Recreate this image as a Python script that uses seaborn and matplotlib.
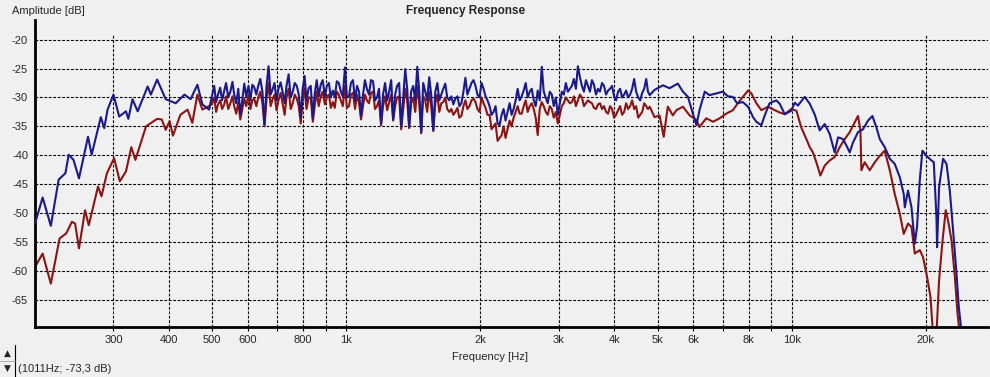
import seaborn as sns
import matplotlib.pyplot as plt
import matplotlib.ticker as mticker
import pandas as pd
from matplotlib.lines import Line2D

# --- data (Hz, dB) ---
blue_low_f = [200, 208, 217, 226, 234, 238, 244, 251, 263, 268, 281, 286, 291, 300, 309, 320, 324,
              331, 340, 358, 364, 376, 393, 414, 433, 447, 463, 475, 492]
blue_low_db = [-51.8, -47.3, -52.2, -44.2, -43.1, -39.9, -40.8, -44.0, -36.8, -39.9, -33.4, -35.3,
               -32.1, -29.5, -33.3, -32.4, -33.7, -30.3, -32.4, -28.1, -29.5, -26.9, -30.3, -31.0,
               -29.5, -30.3, -27.8, -31.2, -32.1]
red_low_f = [200, 208, 217, 227, 235, 242, 246, 251, 259, 264, 277, 282, 290, 301, 310, 320, 329,
             336, 355, 376, 385, 393, 401, 408, 424, 440, 451, 463, 475, 492]
red_low_db = [-59.3, -57.0, -62.2, -54.4, -53.5, -51.5, -51.8, -56.1, -49.5, -52.1, -45.4, -47.1,
              -43.1, -40.5, -44.5, -42.8, -38.6, -40.8, -35.0, -33.7, -33.8, -35.6, -34.1, -36.6,
              -33.0, -32.1, -34.4, -29.5, -32.1, -31.5]

mid_f = [500, 510, 521, 532, 543, 555, 566, 578, 590, 603, 615, 628, 641, 655, 669, 683, 697, 712,
         727, 742, 758, 774, 790, 806, 823, 841, 858, 876, 895, 914, 933, 952, 972, 993, 1014, 1035,
         1057, 1079, 1101, 1124, 1148, 1172, 1197, 1222, 1248, 1274, 1300, 1328, 1356, 1384, 1413,
         1443, 1473, 1504, 1535, 1568, 1601, 1634, 1668, 1703, 1739, 1776, 1813, 1851, 1890, 1930,
         1970, 2012, 2054, 2097, 2141, 2186, 2232, 2278, 2326, 2375, 2425, 2476, 2528, 2581, 2635,
         2690, 2747, 2804, 2863, 2923, 2985, 3047, 3111, 3177, 3243, 3311, 3381, 3452, 3524, 3598,
         3674, 3751, 3830, 3910, 3992, 4076, 4161, 4249, 4338, 4429, 4522, 4617, 4714, 4800]
blue_mid_db = [-29.5, -30.8, -28.3, -28.8, -30.0, -27.3, -31.0, -33.0, -27.6, -28.0, -27.8, -29.5,
               -26.8, -34.7, -24.6, -28.6, -30.5, -27.4, -31.0, -26.0, -29.0, -28.0, -33.4, -26.3,
               -28.4, -33.6, -27.0, -27.8, -29.8, -27.5, -28.8, -27.2, -29.0, -24.8, -29.8, -27.0,
               -28.0, -33.2, -27.0, -29.5, -27.2, -30.0, -34.5, -27.5, -29.0, -33.8, -28.0, -35.0,
               -25.1, -35.1, -28.0, -24.7, -36.0, -29.0, -26.5, -35.7, -27.5, -29.5, -27.6, -30.5,
               -31.2, -29.8, -31.0, -26.6, -28.5, -27.0, -29.5, -27.5, -29.8, -31.5, -32.5, -34.5,
               -33.0, -34.0, -31.0, -32.0, -28.5, -29.8, -27.5, -29.0, -30.5, -28.8, -24.7, -30.0,
               -29.0, -31.5, -33.0, -29.0, -27.5, -28.5, -26.8, -24.6, -28.0, -27.0, -29.0, -27.8,
               -28.5, -27.5, -29.5, -28.5, -29.8, -29.0, -30.0, -28.8, -29.5, -26.8, -30.0, -29.2,
               -26.8, -29.6]
red_mid_db = [-31.0, -32.5, -30.5, -31.2, -32.0, -29.8, -32.8, -33.8, -30.2, -29.5, -30.5, -31.5,
              -29.0, -35.0, -27.5, -30.3, -32.2, -29.2, -33.0, -28.5, -31.0, -30.2, -34.5, -28.4,
              -30.0, -34.2, -29.0, -29.8, -31.2, -29.5, -30.8, -29.0, -30.5, -28.0, -31.5, -29.2,
              -29.5, -33.8, -29.5, -31.0, -29.0, -31.5, -34.8, -29.8, -30.8, -34.0, -30.0, -35.5,
              -28.5, -35.3, -30.0, -28.0, -36.2, -30.5, -29.0, -35.8, -29.5, -31.0, -30.0, -32.5,
              -33.0, -31.8, -33.2, -30.5, -31.5, -30.2, -32.0, -30.0, -31.8, -33.0, -35.0, -37.5,
              -36.5, -37.0, -34.0, -33.5, -31.5, -32.8, -30.5, -31.5, -32.0, -36.5, -30.8, -32.5,
              -31.5, -33.5, -34.5, -31.5, -30.0, -31.0, -29.8, -30.5, -30.0, -31.0, -30.8, -31.8,
              -31.2, -32.0, -32.5, -31.5, -33.5, -32.2, -33.0, -31.0, -31.5, -32.0, -33.5, -32.5,
              -31.5, -31.6]

# in-between readings of the dense mid band
mid2_f = [505, 515, 526, 537, 549, 560, 572, 584, 596, 609, 621, 634, 648, 662, 676, 690, 704, 719,
          734, 750, 766, 782, 798, 814, 832, 849, 867, 885, 904, 923, 942, 962, 982, 1003, 1024,
          1046, 1068, 1090, 1112, 1136, 1160, 1184, 1209, 1235, 1261, 1287, 1314, 1342, 1370, 1398,
          1428, 1458, 1488, 1519, 1551, 1584, 1617, 1651, 1685, 1721, 1757, 1794, 1832, 1870, 1910,
          1950, 1991, 2033, 2075, 2119, 2163, 2209, 2255, 2302, 2350, 2400, 2450, 2502, 2554, 2608,
          2662, 2718, 2775, 2833, 2893, 2954, 3016, 3079, 3144, 3210, 3277, 3346, 3416, 3488, 3561,
          3636, 3712, 3790, 3870, 3951, 4034, 4118, 4205, 4293, 4383, 4475, 4569, 4665, 4757]
blue_mid2_db = [-28.0, -29.5, -30.5, -27.5, -29.0, -29.5, -28.5, -30.5, -29.8, -30.5, -28.2, -28.0,
                -29.0, -28.0, -29.5, -27.5, -28.5, -29.0, -28.0, -30.0, -27.5, -29.5, -28.5, -30.5,
                -28.0, -29.5, -29.8, -27.0, -28.0, -30.0, -30.0, -27.5, -29.8, -30.0, -27.5, -30.5,
                -29.0, -29.5, -28.5, -27.0, -30.5, -28.5, -29.5, -30.5, -27.0, -29.5, -27.5, -30.0,
                -28.5, -29.0, -30.5, -29.0, -27.5, -30.5, -29.5, -29.0, -30.5, -28.5, -30.0, -29.8,
                -30.2, -31.5, -29.0, -29.5, -27.5, -28.0, -30.0, -28.5, -30.5, -33.0, -31.5, -34.8,
                -32.0, -32.5, -33.0, -30.5, -30.5, -28.8, -30.0, -28.5, -31.5, -30.5, -29.0, -31.0,
                -29.5, -30.0, -31.0, -29.5, -29.0, -28.0, -28.5, -26.5, -29.0, -28.0, -27.0, -29.5,
                -29.0, -28.0, -28.8, -28.0, -30.5, -28.5, -29.5, -30.0, -28.5, -29.0, -30.5, -28.5,
                -29.0]
red_mid2_db = [-30.0, -31.2, -32.0, -29.8, -31.0, -31.5, -30.8, -32.0, -31.5, -32.0, -30.2, -30.0,
               -31.0, -30.2, -31.5, -29.5, -30.5, -31.0, -30.0, -32.0, -29.5, -31.5, -30.5, -32.0,
               -30.0, -31.5, -31.5, -29.0, -30.0, -31.8, -31.8, -29.5, -31.5, -31.8, -29.5, -32.0,
               -31.0, -31.5, -30.5, -29.2, -32.0, -30.5, -31.5, -32.2, -29.5, -31.5, -29.8, -32.0,
               -30.5, -31.0, -32.5, -31.0, -29.8, -32.5, -31.5, -31.0, -32.5, -30.8, -32.0, -32.0,
               -32.5, -33.5, -31.5, -32.0, -30.5, -30.8, -32.5, -31.0, -33.0, -35.5, -34.5, -37.0,
               -35.0, -35.5, -35.0, -32.5, -32.8, -31.5, -32.5, -31.0, -33.5, -32.0, -31.5, -33.0,
               -32.0, -32.5, -33.0, -31.0, -30.5, -30.8, -31.5, -29.5, -31.5, -30.5, -31.0, -32.0,
               -31.0, -31.5, -32.8, -32.0, -33.0, -31.5, -32.5, -32.0, -30.5, -31.5, -33.0, -31.0,
               -32.0]

blue_high_f = [4920, 5140, 5320, 5550, 5700, 5850, 6000, 6110, 6210, 6380, 6540, 6770, 7010, 7190,
               7380, 7540, 7770, 7980, 8190, 8330, 8550, 8700, 8920, 9240, 9400, 9650, 9980, 10160,
               10330, 10700, 10980, 11260, 11560, 11860, 12170, 12490, 12710, 13040, 13270, 13500,
               13730, 14090, 14460, 14840, 15180, 15500, 15770, 16180, 16610, 17040, 17490, 17850,
               17950, 18250, 18580, 18900, 19120, 19390, 19660, 20080, 20600, 20850, 21140, 21210,
               21430, 21880, 22270, 22650, 23040, 23450, 23730, 24060]
blue_high_db = [-28.7, -27.9, -28.4, -27.6, -29.0, -29.9, -32.8, -34.8, -32.2, -29.0, -29.6, -29.3,
                -29.0, -29.8, -29.9, -31.0, -30.8, -31.6, -33.4, -34.2, -34.8, -33.1, -31.0, -30.5,
                -31.1, -32.9, -32.3, -30.9, -31.4, -29.9, -31.1, -32.9, -35.7, -34.6, -36.3, -39.5,
                -36.9, -37.2, -38.3, -39.5, -37.8, -36.0, -35.5, -34.0, -33.2, -35.2, -37.2, -38.6,
                -40.6, -41.5, -43.8, -46.7, -49.0, -46.1, -49.0, -55.3, -52.4, -44.4, -39.2, -40.1,
                -40.9, -41.2, -50.7, -55.9, -45.5, -40.6, -41.5, -46.1, -53.0, -60.5, -66.2, -70.5]
red_high_f = [4920, 5050, 5160, 5270, 5410, 5510, 5700, 5900, 6110, 6210, 6430, 6660, 6890, 7130,
              7380, 7570, 7770, 7980, 8120, 8330, 8550, 8850, 9160, 9400, 9650, 9980, 10250, 10510,
              10790, 10980, 11160, 11360, 11600, 11860, 12170, 12490, 12820, 13160, 13500, 13860,
              14090, 14270, 14340, 14590, 14970, 15370, 15770, 16180, 16610, 17040, 17490, 17850,
              18250, 18580, 18900, 19390, 19720, 20080, 20500, 20770, 21140, 21430, 21820, 22180,
              22450, 22850, 23250, 23570, 23850]
red_high_db = [-33.4, -33.1, -36.8, -31.6, -33.1, -32.2, -31.6, -33.1, -33.9, -35.1, -33.6, -34.2,
               -33.6, -32.8, -32.2, -31.0, -29.9, -28.8, -29.3, -31.0, -32.2, -31.6, -32.2, -32.6,
               -32.9, -32.0, -32.3, -35.2, -37.2, -38.6, -39.5, -41.2, -43.5, -41.8, -40.9, -40.3,
               -38.6, -37.2, -36.0, -34.3, -33.2, -35.7, -42.6, -41.2, -42.6, -41.2, -40.1, -39.2,
               -42.6, -46.7, -50.1, -53.6, -51.8, -52.4, -57.0, -56.4, -57.6, -60.5, -64.5, -71.0,
               -71.0, -61.6, -54.7, -49.5, -51.3, -54.7, -61.0, -67.3, -71.0]

grid_f = [300, 400, 500, 600, 700, 800, 900, 1000, 2000, 3000, 4000, 5000, 6000, 7000, 8000,
          9000, 10000, 20000]
grid_lbl = ['300', '400', '500', '600', '', '800', '', '1k', '2k', '3k', '4k', '5k', '6k', '',
            '8k', '', '10k', '20k']
db_ticks = [-20, -25, -30, -35, -40, -45, -50, -55, -60, -65]

blue = pd.DataFrame({'f': blue_low_f + mid_f + mid2_f + blue_high_f,
                     'db': blue_low_db + blue_mid_db + blue_mid2_db + blue_high_db}).sort_values('f')
red = pd.DataFrame({'f': red_low_f + mid_f + mid2_f + red_high_f,
                    'db': red_low_db + red_mid_db + red_mid2_db + red_high_db}).sort_values('f')

sns.set_style('white')
plt.rcParams['font.family'] = ['Liberation Sans', 'DejaVu Sans']
bg = '#f0f0f0'

fig = plt.figure(figsize=(9.9, 3.77), dpi=100, facecolor=bg)
ax = fig.add_axes([0.0354, 0.1326, 0.9626, 0.8144])
ax.set_facecolor(bg)
ax.set_xscale('log')
ax.set_xlim(200, 27600)
ax.set_ylim(-69.7, -16.6)

# grid
for f in grid_f:
    ax.axvline(f, ymax=0.95, color='black', lw=0.8, ls=(0, (2.5, 1.5)), zorder=1)
for d in db_ticks:
    ax.axhline(d, color='black', lw=0.8, ls=(0, (2.5, 1.5)), zorder=1)

sns.lineplot(data=red, x='f', y='db', color='#8b1414', lw=1.5, estimator=None, sort=False,
             ax=ax, zorder=2)
sns.lineplot(data=blue, x='f', y='db', color='#1a1a8a', lw=1.5, estimator=None, sort=False,
             ax=ax, zorder=3)

ax.xaxis.set_major_locator(mticker.FixedLocator(grid_f))
ax.xaxis.set_major_formatter(mticker.FixedFormatter(grid_lbl))
ax.xaxis.set_minor_locator(mticker.NullLocator())
ax.set_yticks(db_ticks)
ax.set_yticklabels([str(d) for d in db_ticks])
ax.tick_params(axis='x', length=3, width=0.8, pad=3, labelsize=8, color='black', direction='out',
               bottom=True)
ax.tick_params(axis='y', length=0, pad=5, labelsize=8)

for s in ['top', 'right']:
    ax.spines[s].set_visible(False)
for s in ['left', 'bottom']:
    ax.spines[s].set_color('black')
    ax.spines[s].set_linewidth(2)
ax.set_xlabel('')
ax.set_ylabel('')

fig.text(0.47, 0.972, 'Frequency Response', ha='center', va='center', fontsize=8.5,
         fontweight='bold')
fig.text(0.012, 0.985, 'Amplitude [dB]', ha='left', va='top', fontsize=8)
fig.text(0.495, 0.053, 'Frequency [Hz]', ha='center', va='center', fontsize=8)

# little spin control in the corner
fig.text(0.0075, 0.062, '▲', ha='center', va='center', fontsize=6.5, family='DejaVu Sans')
fig.text(0.0075, 0.022, '▼', ha='center', va='center', fontsize=6.5, family='DejaVu Sans')
fig.add_artist(Line2D([0.0155, 0.0155], [0.0, 0.085], transform=fig.transFigure, color='black',
                      lw=0.8))
fig.add_artist(Line2D([0.0, 0.0155], [0.042, 0.042], transform=fig.transFigure, color='#a0a0a0',
                      lw=0.6))
fig.text(0.018, 0.022, '(1011Hz; -73,3 dB)', ha='left', va='center', fontsize=8)

fig.savefig('out.png', dpi=100, facecolor=bg)
